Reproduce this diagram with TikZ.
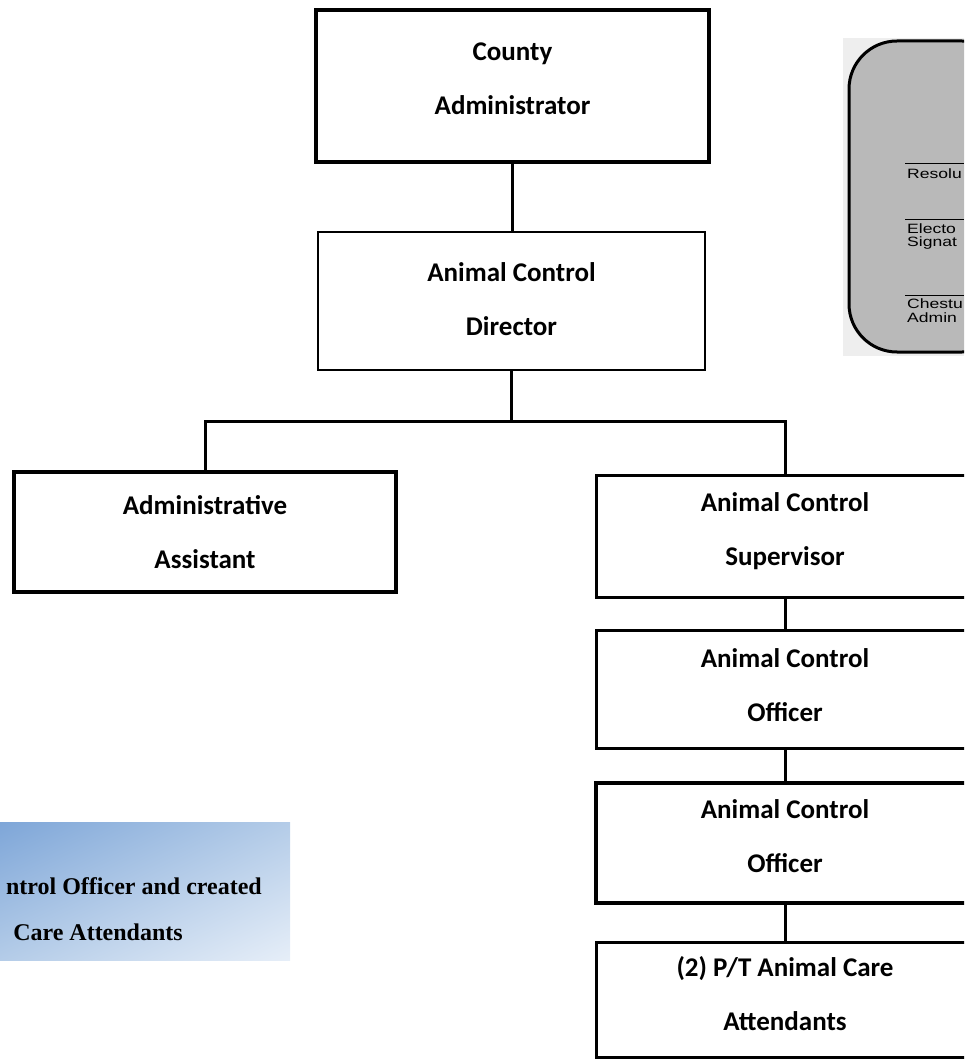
\documentclass[tikz,border=0pt]{standalone}
\usepackage{fontspec}
\usetikzlibrary{shadings}
\newfontfamily\orgfont{Carlito}
\newfontfamily\notefont{Liberation Serif}
\newfontfamily\formfont{Liberation Sans}
\definecolor{formback}{HTML}{EEEEEE}
\definecolor{formgray}{HTML}{B9B9B9}
\definecolor{notedark}{HTML}{7EA6D8}
\definecolor{notemid}{HTML}{B4CCE8}
\definecolor{notelight}{HTML}{E6EEF8}
\newcommand{\formword}[1]{\scalebox{1.3}[1]{#1}}
\tikzset{
  orgbox/.style={draw, rectangle, align=center, line width=#1,
    font=\orgfont\bfseries\fontsize{27}{54}\selectfont, text depth=14pt},
  orgbox/.default=3pt,
  formtext/.style={anchor=west, inner sep=0pt, font=\formfont\fontsize{13.5}{13.5}\selectfont},
  notetext/.style={anchor=east, inner sep=0pt, font=\notefont\bfseries\fontsize{24}{28}\selectfont}
}
\begin{document}
\begin{tikzpicture}[x=1pt, y=-1pt]
  \useasboundingbox (0,0) rectangle (964,1059);
  \clip (0,0) rectangle (964,1059);
  \fill[formback] (843,38) rectangle (964,356);
  \draw[line width=3pt, fill=formgray, rounded corners=48pt] (849,41) rectangle (1010,352);
  \draw[line width=1pt] (905,164) -- (964,164) (905,220) -- (964,220) (905,295) -- (964,295);
  \node[formtext] (resol) at (907,174) {\formword{Resolu}};
  \node[formtext] (elect) at (907,228.5) {\formword{Electo}};
  \node[formtext] (sign) at (907,243) {\formword{Signat}};
  \node[formtext] (chest) at (907,303.5) {\formword{Chestu}};
  \node[formtext] (admn) at (907,318) {\formword{Admin}};
  \shade[upper left=notedark, upper right=notemid, lower left=notemid, lower right=notelight]
    (0,822) rectangle (290,960);
  \node[notetext] (note1) at (262,886) {ntrol Officer and created};
  \node[notetext] (note2) at (183,932) {Care Attendants};
  \draw
    (512.5,86) node[orgbox=3.5pt, minimum width=393, minimum height=152] (county) {County\\Administrator}
    (511.5,301) node[orgbox=2.5pt, minimum width=387, minimum height=138, text depth=4pt] (director) {Animal Control\\Director}
    (205,532) node[orgbox=4pt, minimum width=382, minimum height=120, text depth=0pt] (admin) {Administrative\\Assistant}
    (785,536) node[orgbox, minimum width=378, minimum height=122] (super) {Animal Control\\Supervisor}
    (785,689) node[orgbox, minimum width=378, minimum height=118, text depth=8pt] (officer1) {Animal Control\\Officer}
    (785,843) node[orgbox=4.5pt, minimum width=378, minimum height=120] (officer2) {Animal Control\\Officer}
    (785,1000) node[orgbox, minimum width=378, minimum height=115] (attend) {(2) P/T Animal Care\\Attendants};
  \begin{scope}[line width=3pt]
    \draw (county.south) -- (county.south |- director.north);
    \draw (director.south) -- ++(0,50) coordinate (split);
    \draw (split) -| (admin.north);
    \draw (split) -| (super.north);
    \draw (super) -- (officer1);
    \draw (officer1) -- (officer2);
    \draw (officer2) -- (attend);
  \end{scope}
\end{tikzpicture}
\end{document}
